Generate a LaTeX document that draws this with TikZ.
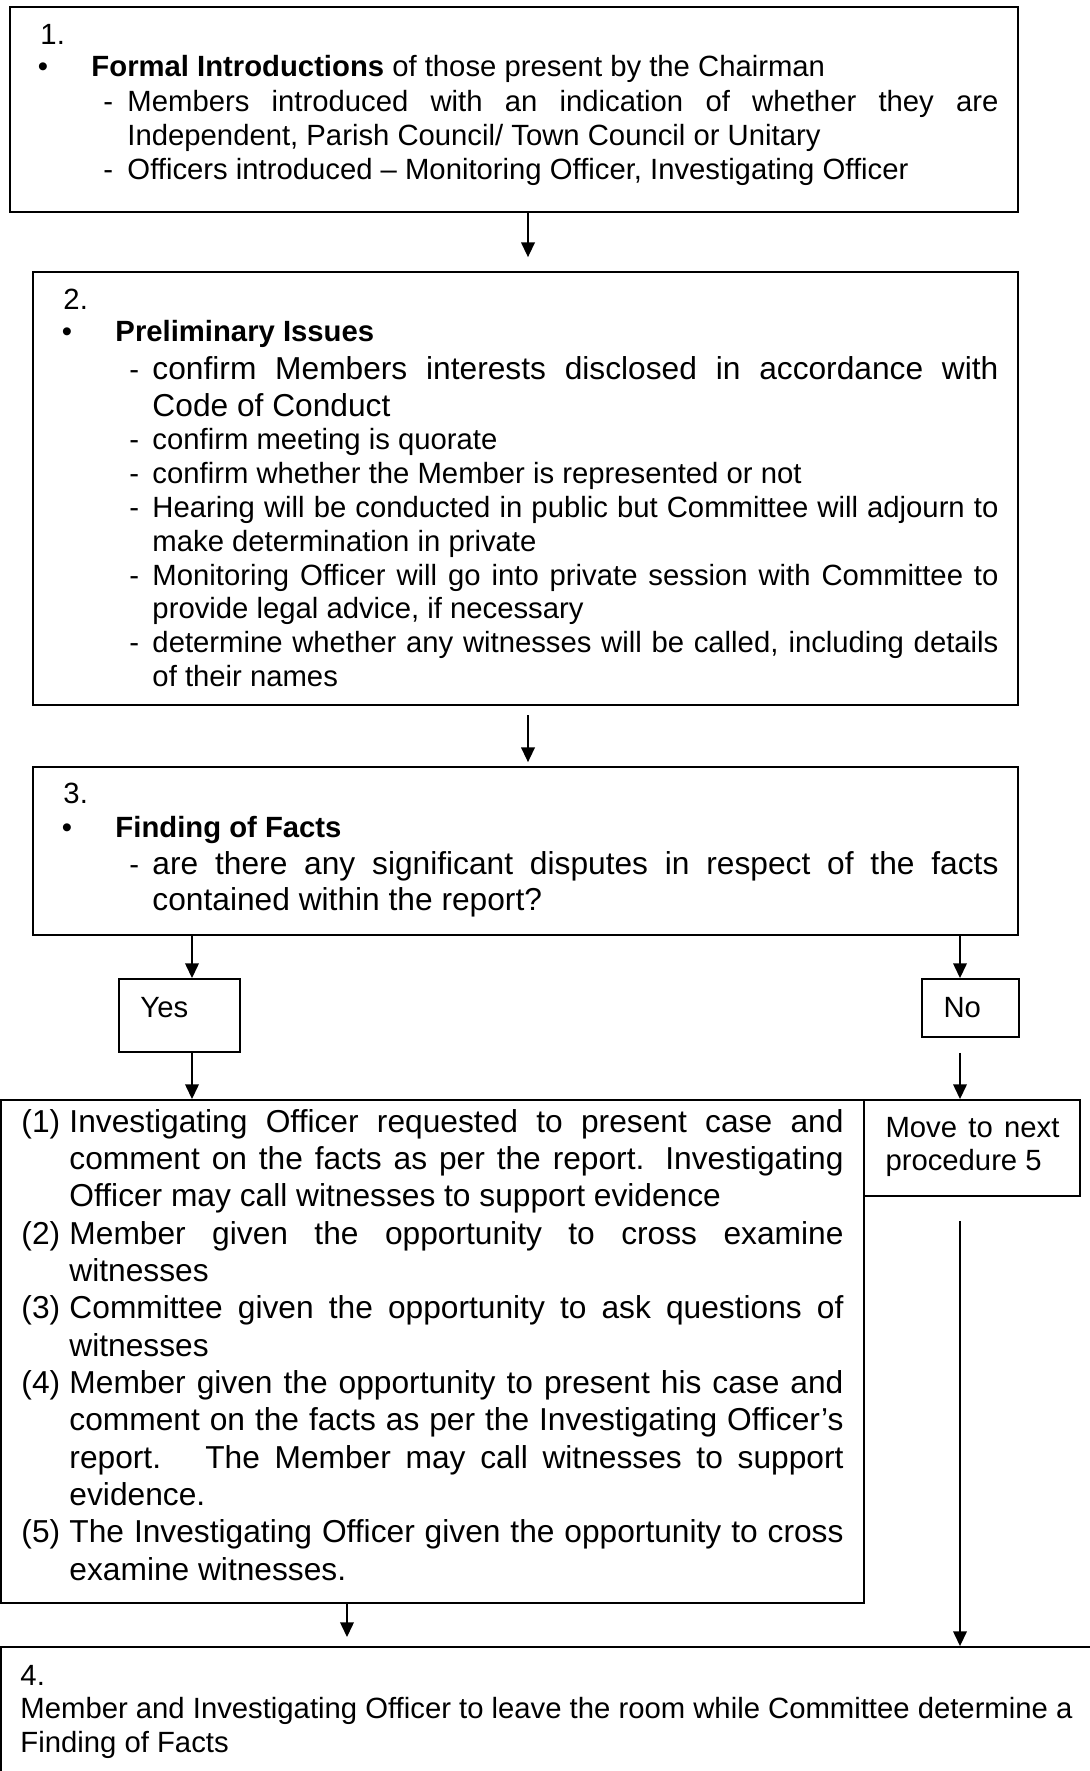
\documentclass[tikz,border=0pt]{standalone}
\usepackage{fontspec}
\setmainfont{Liberation Sans}
\usetikzlibrary{arrows.meta,fit}
\newlength\pxu
\setlength\pxu{0.41pt}
\newcommand\jl[2]{\makebox[#1\pxu][s]{#2}}
\begin{document}
\begin{tikzpicture}[x=0.41pt,y=-0.41pt,
  box/.style={draw, inner sep=0pt, line width=0.8pt},
  txt/.style={inner sep=0pt, anchor=base west, font=\fontsize{12}{13.8}\selectfont},
  txtl/.style={txt, font=\fontsize{13}{15}\selectfont},
  bul/.style={txt, anchor=base},
  arr/.style={line width=0.55pt, -{Triangle[length=6pt,width=5.6pt]}}]
\useasboundingbox (0,0) rectangle (1090,1771);
% boxes
\node[box, fit={(10,7) (1018,212)}] (b1) {};
\node[box, fit={(33,272) (1018,705)}] (b2) {};
\node[box, fit={(33,767) (1018,935)}] (b3) {};
\node[box, fit={(119,979) (240,1052)}] (yes) {};
\node[box, fit={(922,979) (1019,1037)}] (no) {};
\node[box, fit={(1,1100) (864,1603)}] (big) {};
\node[box, fit={(864,1100) (1080,1196)}] (move) {};
\node[box, fit={(1,1647) (1120,1800)}] (b4) {};
% box 1
\node[txt] (t1n) at (40,45) {1.};
\node[bul] (t1b) at (43,77) {\textbullet};
\node[txt] (t1a) at (91,77) {\textbf{Formal Introductions} of those present by the Chairman};
\node[txt] (t1d1) at (103,112) {-};
\node[txt] (t1c) at (127,112) {\jl{871}{Members introduced with an indication of whether they are}};
\node[txt] (t1e) at (127,146) {Independent, Parish Council/ Town Council or Unitary};
\node[txt] (t1d2) at (103,180) {-};
\node[txt] (t1f) at (127,180) {Officers introduced – Monitoring Officer, Investigating Officer};
% box 2
\node[txt] (t2n) at (63,310) {2.};
\node[bul] (t2b) at (67,342) {\textbullet};
\node[txt] (t2a) at (115,342) {\textbf{Preliminary Issues}};
\node[txt] (t2d1) at (129,380) {-};
\node[txtl] (t2c) at (152,380) {\jl{846}{confirm Members interests disclosed in accordance with}};
\node[txtl] (t2e) at (152,417) {Code of Conduct};
\node[txt] (t2d2) at (129,450) {-};
\node[txt] (t2f) at (152,450) {confirm meeting is quorate};
\node[txt] (t2d3) at (129,484) {-};
\node[txt] (t2g) at (152,484) {confirm whether the Member is represented or not};
\node[txt] (t2d4) at (129,517) {-};
\node[txt] (t2h) at (152,517) {\jl{846}{Hearing will be conducted in public but Committee will adjourn to}};
\node[txt] (t2i) at (152,551) {make determination in private};
\node[txt] (t2d5) at (129,585) {-};
\node[txt] (t2j) at (152,585) {\jl{846}{Monitoring Officer will go into private session with Committee to}};
\node[txt] (t2k) at (152,618) {provide legal advice, if necessary};
\node[txt] (t2d6) at (129,652) {-};
\node[txt] (t2l) at (152,652) {\jl{846}{determine whether any witnesses will be called, including details}};
\node[txt] (t2m) at (152,686) {of their names};
% box 3
\node[txt] (t3n) at (63,803) {3.};
\node[bul] (t3b) at (67,837) {\textbullet};
\node[txt] (t3a) at (115,837) {\textbf{Finding of Facts}};
\node[txt] (t3d1) at (129,874) {-};
\node[txtl] (t3c) at (152,874) {\jl{846}{are there any significant disputes in respect of the facts}};
\node[txtl] (t3e) at (152,910) {contained within the report?};
% yes / no
\node[txt] (tyes) at (140,1017) {Yes};
\node[txt] (tno) at (943,1017) {No};
% move box
\node[txt] (tm1) at (885,1137) {\jl{174}{Move to next}};
\node[txt] (tm2) at (885,1170) {procedure 5};
% big box
\node[txtl] (p1) at (21,1132) {(1)};
\node[txtl] (p1a) at (69,1132) {\jl{774}{Investigating Officer requested to present case and}};
\node[txtl] (p1b) at (69,1169.3) {\jl{774}{comment on the facts as per the report. Investigating}};
\node[txtl] (p1c) at (69,1206.7) {Officer may call witnesses to support evidence};
\node[txtl] (p2) at (21,1244) {(2)};
\node[txtl] (p2a) at (69,1244) {\jl{774}{Member given the opportunity to cross examine}};
\node[txtl] (p2b) at (69,1281.3) {witnesses};
\node[txtl] (p3) at (21,1318.7) {(3)};
\node[txtl] (p3a) at (69,1318.7) {\jl{774}{Committee given the opportunity to ask questions of}};
\node[txtl] (p3b) at (69,1356) {witnesses};
\node[txtl] (p4) at (21,1393.3) {(4)};
\node[txtl] (p4a) at (69,1393.3) {\jl{774}{Member given the opportunity to present his case and}};
\node[txtl] (p4b) at (69,1430.7) {\jl{774}{comment on the facts as per the Investigating Officer’s}};
\node[txtl] (p4c) at (69,1468) {\jl{774}{report. \ The Member may call witnesses to support}};
\node[txtl] (p4d) at (69,1505.3) {evidence.};
\node[txtl] (p5) at (21,1542.7) {(5)};
\node[txtl] (p5a) at (69,1542.7) {\jl{774}{The Investigating Officer given the opportunity to cross}};
\node[txtl] (p5b) at (69,1580) {examine witnesses.};
% box 4
\node[txt] (t4n) at (20,1685) {4.};
\node[txt] (t4a) at (20,1718) {Member and Investigating Officer to leave the room while Committee determine a};
\node[txt] (t4b) at (20,1752) {Finding of Facts};
% connectors
\coordinate (xA) at (528,0);
\coordinate (xY) at (192,0);
\coordinate (xN) at (960,0);
\coordinate (xB) at (347,0);
\draw[arr, shorten >=5.7pt] (xA |- b1.south) -- (xA |- b2.north);
\draw[arr, shorten <=3.7pt, shorten >=1.6pt] (xA |- b2.south) -- (xA |- b3.north);
\draw[arr] (xY |- b3.south) -- (xY |- yes.north);
\draw[arr] (xN |- b3.south) -- (xN |- no.north);
\draw[arr] (xY |- yes.south) -- (xY |- big.north);
\draw[arr, shorten <=6.1pt] (xN |- no.south) -- (xN |- move.north);
\draw[arr, shorten <=9.8pt] (xN |- move.south) -- (xN |- b4.north);
\draw[arr, shorten >=3.7pt] (xB |- big.south) -- (xB |- b4.north);
\end{tikzpicture}
\end{document}
